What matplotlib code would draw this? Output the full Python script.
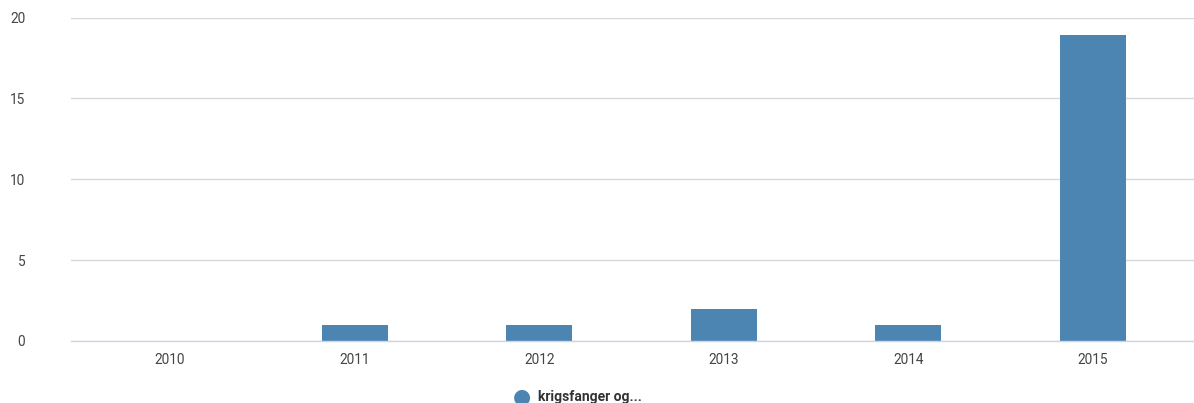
import matplotlib
matplotlib.use("Agg")
import matplotlib.pyplot as plt

categories = ["2010", "2011", "2012", "2013", "2014", "2015"]
values = [0, 1, 1, 2, 1, 18.9]
series_name = "krigsfanger og..."
yticks = [0, 5, 10, 15, 20]

plt.rcParams['font.family'] = ['Roboto', 'DejaVu Sans']

fig = plt.figure(figsize=(11.94, 4.03), dpi=100)
ax = fig.add_axes([71/1194, 1 - 341/403, 1 - 71/1194, (341 - 17.5)/403])

x = list(range(len(categories)))
ax.bar(x, values, width=0.357, color="#4d85b2", zorder=3)

ax.set_xlim(-0.536, 5.547)
ax.set_ylim(0, 20)
ax.set_yticks(yticks)
ax.set_yticklabels([str(v) for v in yticks])
ax.set_xticks(x)
ax.set_xticklabels(categories)
ax.tick_params(axis='both', length=0, labelsize=9.8, colors="#444444")
ax.tick_params(axis='y', pad=33)
ax.tick_params(axis='x', pad=9)

ax.grid(axis='y', color="#d8d8d8", linewidth=1, zorder=0)
for s in ['top', 'right', 'left']:
    ax.spines[s].set_visible(False)
ax.spines['bottom'].set_color("#ccd6eb")
ax.spines['bottom'].set_linewidth(1)
ax.spines['bottom'].set_zorder(4)

fig.text(522/1194, 1 - 397/403, "\u25CF", color="#4d85b2", fontsize=15,
         ha='center', va='center', family='DejaVu Sans')
fig.text(538/1194, 1 - 397/403, series_name, color="#333333", fontsize=10,
         fontweight='bold', ha='left', va='center')

fig.savefig("out.png", dpi=100)
